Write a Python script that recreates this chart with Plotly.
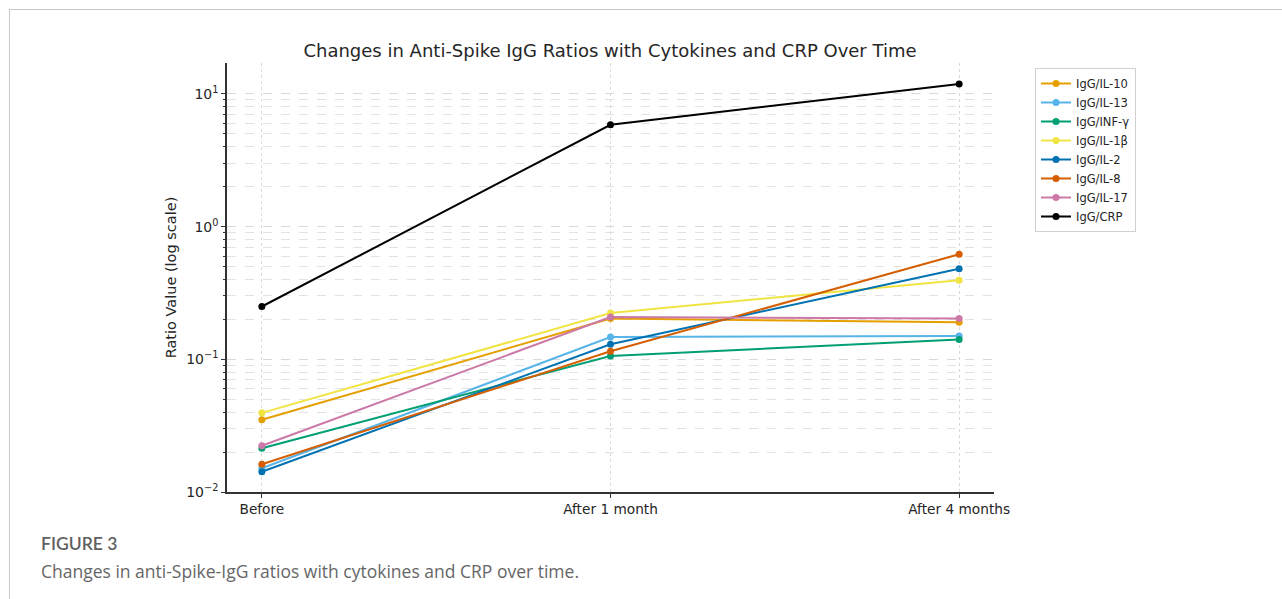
import plotly.graph_objects as go

timepoints = ["Before", "After 1 month", "After 4 months"]
series_names = ["IgG/IL-10", "IgG/IL-13", "IgG/INF-γ", "IgG/IL-1β", "IgG/IL-2", "IgG/IL-8", "IgG/IL-17", "IgG/CRP"]
il10 = [0.035, 0.203, 0.19]
il13 = [0.0151, 0.147, 0.150]
infg = [0.0214, 0.106, 0.141]
il1b = [0.0395, 0.223, 0.395]
il2 = [0.0142, 0.130, 0.481]
il8 = [0.0162, 0.115, 0.619]
il17 = [0.0223, 0.208, 0.203]
crp = [0.25, 5.85, 11.9]
colors = ["#E69F00", "#56B4E9", "#009E73", "#F0E442", "#0072B2", "#D55E00", "#CC79A7", "#000000"]
values = [il10, il13, infg, il1b, il2, il8, il17, crp]

ytick_vals = [0.01, 0.1, 1, 10]
ytick_text = ["10<sup>−2</sup>", "10<sup>−1</sup>", "10<sup>0</sup>", "10<sup>1</sup>"]

fig = go.Figure()
for name, vals, col in zip(series_names, values, colors):
    fig.add_trace(go.Scatter(
        x=[0, 1, 2], y=vals, name=name, mode="lines+markers",
        line=dict(color=col, width=2), marker=dict(color=col, size=7),
    ))

W, H = 1282, 599
L, R, T, B = 227, 288, 63, 107
pw, ph = W - L - R, H - T - B

def px(xp):
    return (xp - L) / pw

def py(yp):
    return (H - B - yp) / ph

font = "DejaVu Sans, sans-serif"
fig.update_layout(
    width=W, height=H,
    margin=dict(l=L, r=R, t=T, b=B),
    paper_bgcolor="white", plot_bgcolor="white",
    font=dict(family=font, color="#262626", size=13.7),
    title=dict(text="Changes in Anti-Spike IgG Ratios with Cytokines and CRP Over Time",
               x=610 / W, xanchor="center", y=1 - 51 / H, yanchor="middle",
               font=dict(size=18, family=font, color="#262626")),
    showlegend=True,
    legend=dict(x=px(1035), y=py(68), xanchor="left", yanchor="top",
                bordercolor="#d0d0d0", borderwidth=1, bgcolor="white",
                font=dict(size=11.5, family=font, color="#262626"),
                tracegroupgap=0, itemwidth=30),
    xaxis=dict(
        range=[-0.1, 2.1], tickvals=[0, 1, 2], ticktext=timepoints,
        showline=True, linecolor="#333333", linewidth=1.5,
        ticks="outside", ticklen=4, tickcolor="#333333",
        showgrid=True, gridcolor="#d9d9d9", griddash="dot", gridwidth=1,
        zeroline=False, tickfont=dict(size=13.7),
    ),
    yaxis=dict(
        type="log", range=[-2, 1.233],
        tickvals=ytick_vals, ticktext=ytick_text,
        showline=True, linecolor="#333333", linewidth=1.5,
        ticks="outside", ticklen=4, tickcolor="#333333",
        showgrid=True, gridcolor="#d9d9d9", griddash="dash", gridwidth=1,
        minor=dict(tickvals=[m * 10 ** e for e in (-2, -1, 0, 1) for m in range(2, 10) if m * 10 ** e < 17],
                   showgrid=True, gridcolor="#e3e3e3", griddash="dash",
                   ticks="outside", ticklen=2, tickcolor="#333333"),
        zeroline=False, tickfont=dict(size=14),
        title=dict(text="Ratio Value (log scale)", font=dict(size=14.5), standoff=6),
    ),
    shapes=[
        dict(type="line", xref="paper", yref="paper", x0=px(9), x1=px(1282), y0=py(9.5), y1=py(9.5),
             line=dict(color="#c8c8c8", width=1)),
        dict(type="line", xref="paper", yref="paper", x0=px(9.5), x1=px(9.5), y0=py(9), y1=py(599),
             line=dict(color="#c8c8c8", width=1)),
    ],
    annotations=[
        dict(text="FIGURE 3", xref="paper", yref="paper", x=px(39), y=py(543),
             xanchor="left", yanchor="middle", showarrow=False,
             font=dict(family="Lato", size=17.5, color="#5f5f5f", weight=600)),
        dict(text="Changes in anti-Spike-IgG ratios with cytokines and CRP over time.",
             xref="paper", yref="paper", x=px(39), y=py(571),
             xanchor="left", yanchor="middle", showarrow=False,
             font=dict(family="Open Sans", size=17.5, color="#666666")),
    ],
)

fig.write_html("out.html")
